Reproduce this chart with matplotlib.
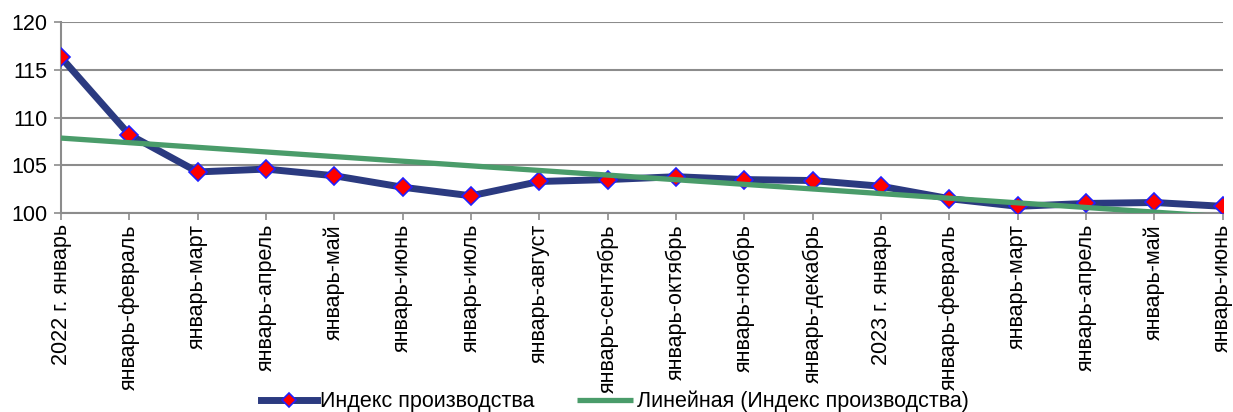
import numpy as np
import matplotlib
matplotlib.use("Agg")
import matplotlib.pyplot as plt

plt.rcParams['font.family'] = ['Liberation Sans', 'DejaVu Sans']

categories = ["2022 г. январь", "январь-февраль", "январь-март", "январь-апрель",
              "январь-май", "январь-июнь", "январь-июль", "январь-август",
              "январь-сентябрь", "январь-октябрь", "январь-ноябрь", "январь-декабрь",
              "2023 г. январь", "январь-февраль", "январь-март", "январь-апрель",
              "январь-май", "январь-июнь"]
values = [116.3, 108.2, 104.3, 104.6, 103.9, 102.7, 101.8, 103.3, 103.5,
          103.8, 103.5, 103.4, 102.8, 101.5, 100.7, 101.0, 101.1, 100.7]
yticks = [100, 105, 110, 115, 120]

x = np.arange(len(values))
coef = np.polyfit(x, values, 1)
trend = np.polyval(coef, x)

fs = 15.5
fig = plt.figure(figsize=(12.33, 4.12), dpi=100)
ax = fig.add_axes([0.0495, 0.483, 0.9422, 0.4636])

grid_c = '#8c8c8c'
for yv in yticks:
    ax.axhline(yv, color=grid_c, lw=1.5, zorder=1)

ax.plot(x, values, color='#2B3A80', lw=5, marker='D', markersize=9,
        markerfacecolor='red', markeredgecolor='#2020ff', markeredgewidth=1.2,
        label='Индекс производства', zorder=3, solid_joinstyle='round')
ax.plot(x, trend, color='#4A9C6A', lw=3.8, label='Линейная (Индекс производства)',
        zorder=4, solid_capstyle='butt')

ax.set_xlim(0, len(values) - 1)
ax.set_ylim(100, 120)
ax.set_yticks(yticks)
ax.set_xticks(x)
ax.set_xticklabels(categories, rotation=90, fontsize=fs)
ax.tick_params(axis='y', labelsize=fs, length=5, color=grid_c, width=1.2, pad=5)
ax.tick_params(axis='x', length=5, color=grid_c, width=1.2, pad=3)
for s in ['top', 'right']:
    ax.spines[s].set_visible(False)
ax.spines['left'].set_color(grid_c)
ax.spines['left'].set_linewidth(1.5)
ax.spines['bottom'].set_color(grid_c)
ax.spines['bottom'].set_linewidth(1.5)

leg = fig.legend(loc='center', bbox_to_anchor=(0.4984, 0.025), ncol=2, frameon=False,
                 fontsize=fs, handlelength=2.6, handletextpad=0.15, columnspacing=2.0,
                 borderaxespad=0, borderpad=0, markerscale=0.75)

fig.savefig('out.png', dpi=100)
